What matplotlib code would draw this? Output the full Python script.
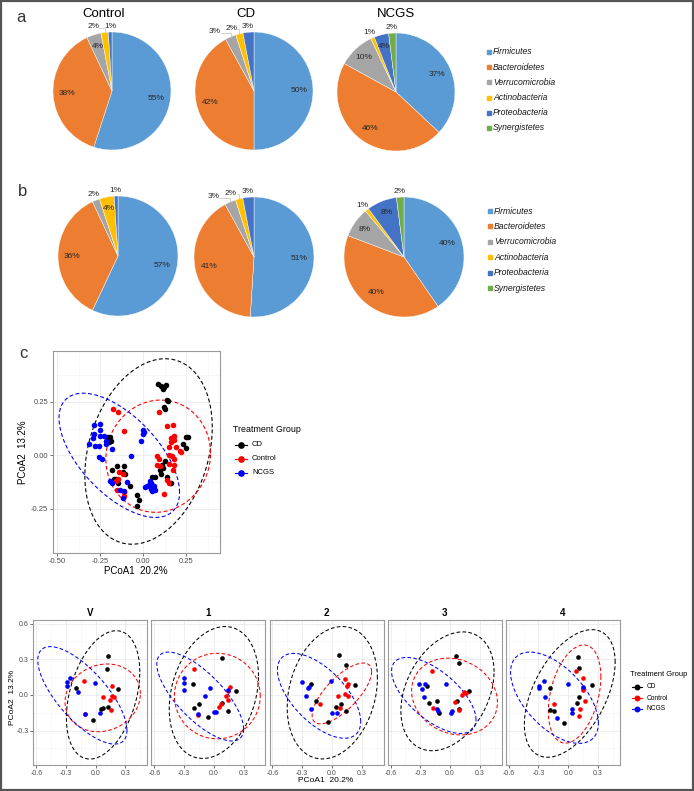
import numpy as np
import matplotlib
matplotlib.use('Agg')
import matplotlib.pyplot as plt
from matplotlib.patches import Rectangle
from matplotlib.lines import Line2D

plt.rcParams['font.family'] = ['Liberation Sans', 'DejaVu Sans']

W, H = 694, 791

# ---------------- pie data (panels a, b) ----------------
phyla = ['Firmicutes', 'Bacteroidetes', 'Verrucomicrobia', 'Actinobacteria',
         'Proteobacteria', 'Synergistetes']
phyla_colors = ['#5B9BD5', '#ED7D31', '#A5A5A5', '#FFC000', '#4472C4', '#70AD47']
pie_groups = ['Control', 'CD', 'NCGS']

pie_a_control = [55, 38, 4, 2, 1, 0]
pie_a_cd = [50, 42, 3, 2, 3, 0]
pie_a_ncgs = [37, 46, 10, 1, 4, 2]
pie_b_control = [57, 36, 2, 4, 1, 0]
pie_b_cd = [51, 41, 3, 2, 3, 0]
pie_b_ncgs = [40, 40, 8, 1, 8, 2]

# ---------------- PCoA data (panel c) ----------------
groups = ['CD', 'Control', 'NCGS']
group_colors = {'CD': 'black', 'Control': '#FF0000', 'NCGS': '#0000FF'}

c_cd = [(0.085, 0.335), (0.10, 0.325), (0.115, 0.31), (0.12, 0.32), (0.13, 0.33),
        (0.135, 0.26), (0.145, 0.255), (0.12, 0.225), (0.125, 0.215),
        (0.25, 0.085), (0.26, 0.085), (0.23, 0.055), (0.25, 0.035),
        (-0.205, 0.085), (-0.195, 0.085), (-0.19, 0.065), (-0.2, 0.06),
        (-0.155, -0.05), (-0.11, -0.05), (-0.18, -0.07), (-0.17, -0.11), (-0.15, -0.13),
        (-0.12, -0.08), (-0.105, -0.085), (-0.075, -0.145), (-0.035, -0.185),
        (-0.025, -0.21), (-0.035, -0.235), (-0.16, -0.11),
        (0.05, -0.10), (0.065, -0.10), (0.095, -0.07), (0.11, -0.045), (0.125, -0.025),
        (0.115, -0.06), (0.10, -0.085), (0.135, -0.10), (0.155, -0.13), (0.16, -0.13)]
c_control = [(-0.175, 0.215), (-0.15, 0.20), (-0.11, 0.115), (0.09, 0.20), (0.135, 0.135),
             (0.17, 0.14), (0.16, 0.08), (0.18, 0.09), (0.18, 0.07), (0.16, 0.06),
             (0.15, 0.04), (0.19, 0.04), (0.21, 0.02), (0.22, 0.015),
             (0.08, -0.005), (0.09, -0.015), (0.15, 0.0), (0.165, -0.005), (0.175, -0.015),
             (0.15, -0.04), (0.18, -0.045), (0.17, -0.07), (0.08, -0.045), (0.095, -0.05),
             (0.135, -0.115), (0.15, -0.13), (0.12, -0.18),
             (-0.14, -0.08), (-0.12, -0.085), (-0.145, -0.11), (-0.16, -0.12),
             (-0.155, -0.16), (-0.115, -0.17), (-0.115, -0.19)]
c_ncgs = [(-0.315, 0.055), (-0.295, 0.08), (-0.285, 0.10), (-0.285, 0.14), (-0.25, 0.145),
          (-0.25, 0.12), (-0.25, 0.09), (-0.28, 0.045), (-0.26, 0.045), (-0.23, 0.09),
          (-0.22, 0.065), (-0.215, 0.055), (-0.185, 0.03), (-0.255, -0.01), (-0.24, -0.015),
          (-0.005, 0.12), (0.005, 0.11), (-0.005, 0.10), (-0.015, 0.065), (-0.07, -0.005),
          (-0.195, -0.12), (-0.18, -0.13), (-0.095, -0.125), (-0.135, -0.16), (-0.11, -0.165),
          (-0.12, -0.20), (0.01, -0.15), (0.035, -0.14), (0.045, -0.13), (0.05, -0.14),
          (0.06, -0.145), (0.045, -0.155), (0.04, -0.12), (0.05, -0.165), (0.065, -0.16),
          (0.02, -0.145)]
# ellipse: centre x, centre y, half width, half height, correlation
c_ellipses = {'CD': (0.03, 0.018, 0.37, 0.433, 0.26),
              'Control': (0.086, -0.004, 0.304, 0.262, 0.05),
              'NCGS': (-0.14, 0.0, 0.35, 0.29, -0.60)}

# ---------------- PCoA by visit (panel d) ----------------
visits = ['V', '1', '2', '3', '4']
visit_cd = {
    'V': [(0.125, 0.33), (0.115, 0.22), (-0.196, 0.056), (0.225, 0.05), (0.054, -0.118),
          (0.074, -0.107), (0.12, -0.10), (-0.027, -0.213)],
    '1': [(0.087, 0.314), (-0.213, 0.09), (0.222, 0.034), (0.08, -0.065), (-0.145, -0.076),
          (-0.196, -0.107), (0.138, -0.132), (-0.054, -0.188)],
    '2': [(0.07, 0.337), (0.138, 0.253), (-0.216, 0.09), (0.232, 0.084), (-0.165, -0.05),
          (0.087, -0.073), (0.044, -0.10), (0.138, -0.135), (-0.041, -0.23)],
    '3': [(0.06, 0.329), (0.093, 0.267), (-0.236, 0.076), (0.194, 0.036), (-0.135, -0.05),
          (-0.21, -0.07), (0.067, -0.048), (-0.109, -0.149), (0.09, -0.12)],
    '4': [(0.103, 0.317), (0.113, 0.23), (-0.183, 0.056), (0.239, 0.084), (0.113, -0.022),
          (0.087, -0.065), (-0.183, -0.126), (-0.139, -0.132), (-0.038, -0.233)],
}
visit_control = {
    'V': [(-0.115, 0.118), (0.168, 0.073), (0.074, -0.014), (0.168, -0.006), (0.181, -0.02),
          (0.148, -0.045), (0.158, -0.126), (-0.112, -0.163)],
    '1': [(-0.196, 0.216), (0.165, 0.07), (0.138, 0.034), (0.12, -0.008), (0.138, -0.042),
          (0.074, -0.076), (0.054, -0.098), (-0.162, -0.168)],
    '2': [(0.128, 0.135), (0.165, 0.09), (0.148, 0.076), (0.064, -0.006), (0.135, 0.006),
          (0.165, -0.01), (-0.122, -0.079), (0.077, -0.107)],
    '3': [(-0.186, 0.202), (0.14, 0.028), (0.158, 0.019), (0.117, 0.0), (0.05, -0.056),
          (0.093, -0.126), (-0.17, -0.112)],
    '4': [(0.08, 0.202), (0.154, 0.14), (0.147, 0.056), (0.147, 0.042), (0.171, -0.05),
          (-0.139, -0.079), (0.12, -0.118), (0.11, -0.18)],
}
visit_ncgs = {
    'V': [(-0.256, 0.146), (-0.29, 0.11), (-0.29, 0.076), (-0.18, 0.028), (-0.004, 0.104),
          (-0.105, -0.163), (0.047, -0.154)],
    '1': [(-0.30, 0.14), (-0.30, 0.098), (-0.30, 0.042), (-0.034, 0.062), (-0.088, -0.006),
          (0.14, 0.04), (0.006, -0.14), (0.024, -0.146), (-0.155, -0.163)],
    '2': [(-0.30, 0.107), (-0.233, 0.07), (-0.24, 0.056), (-0.266, -0.008), (-0.007, 0.118),
          (-0.209, -0.118), (0.003, -0.149), (0.054, -0.154)],
    '3': [(-0.314, 0.093), (-0.253, 0.09), (-0.287, 0.048), (-0.26, -0.014), (-0.044, 0.09),
          (-0.135, -0.12), (-0.119, -0.135), (0.016, -0.135), (0.01, -0.149)],
    '4': [(-0.243, 0.115), (-0.29, 0.076), (-0.29, 0.056), (-0.233, -0.014), (-0.004, 0.093),
          (-0.115, -0.197), (0.037, -0.12), (0.037, -0.149), (0.15, 0.07)],
}
visit_ellipses = {
    'V': {'CD': (0.074, 0.0, 0.37, 0.54, 0.36), 'Control': (0.07, -0.025, 0.38, 0.285, 0.12),
          'NCGS': (-0.135, -0.004, 0.45, 0.41, -0.72)},
    '1': {'CD': (0.0, 0.02, 0.45, 0.555, 0.25), 'Control': (0.035, -0.01, 0.433, 0.36, 0.0),
          'NCGS': (-0.138, -0.014, 0.438, 0.374, -0.73)},
    '2': {'CD': (0.0035, 0.018, 0.455, 0.557, 0.22), 'Control': (0.10, 0.012, 0.30, 0.256, 0.72),
          'NCGS': (-0.13, -0.008, 0.42, 0.357, -0.61)},
    '3': {'CD': (-0.026, 0.03, 0.47, 0.50, 0.33), 'Control': (0.045, -0.014, 0.433, 0.323, -0.15),
          'NCGS': (-0.164, -0.005, 0.426, 0.32, -0.64)},
    '4': {'CD': (0.016, 0.012, 0.458, 0.537, 0.49), 'Control': (0.065, 0.007, 0.265, 0.413, 0.35),
          'NCGS': (-0.138, -0.024, 0.443, 0.384, -0.56)},
}


def px_rect(left, top, width, height):
    return [left / W, 1 - (top + height) / H, width / W, height / H]


def fx(x):
    return x / W


def fy(y):
    return 1 - y / H


fig = plt.figure(figsize=(W / 100, H / 100), dpi=100)


def draw_pie(cx, cy, r, vals):
    size = 2.6 * r
    ax = fig.add_axes(px_rect(cx - size / 2, cy - size / 2, size, size))
    vals = np.array(vals, float)
    keep = vals > 0
    v = vals[keep]
    cols = [c for c, k in zip(phyla_colors, keep) if k]
    ax.pie(v, colors=cols, startangle=90, counterclock=False, radius=1,
           wedgeprops=dict(linewidth=0.3, edgecolor='white'))
    ax.set_xlim(-1.3, 1.3)
    ax.set_ylim(-1.3, 1.3)
    ax.set_aspect('equal')
    ax.axis('off')

    frac = v / v.sum()
    mid = (np.cumsum(frac) - frac / 2) * 2 * np.pi
    inside, outside = [], []
    for val, th in zip(v, mid):
        if val >= 4:
            rho = 0.76 if val >= 15 else 0.8
            inside.append((val, rho * np.sin(th), rho * np.cos(th)))
        else:
            outside.append([val, th, 1.12 * np.sin(th), 1.1 * np.cos(th)])
    for val, x, y in inside:
        ax.text(x, y, f'{val:.0f}%', ha='center', va='center', fontsize=6, color='#262626')
    # spread small outside labels so they do not collide
    gap = 0.28
    prev = None
    for lab in reversed(outside):
        if prev is not None and lab[2] > prev - gap:
            lab[2] = prev - gap
        prev = lab[2]
    for val, th, x, y in outside:
        ex, ey = np.sin(th), np.cos(th)
        if abs(x - 1.12 * ex) > 0.08:
            ax.plot([ex, ex, x + 0.1], [ey, y - 0.02, y - 0.02], color='#bfbfbf', lw=0.5)
        ax.text(x, y, f'{val:.0f}%', ha='center', va='center', fontsize=6, color='#262626')


def pie_legend(x0, y0, step):
    for i, (name, col) in enumerate(zip(phyla, phyla_colors)):
        yy = y0 + i * step
        fig.add_artist(Rectangle((fx(x0), fy(yy + 2)), 4 / W, 4 / H, color=col,
                                 transform=fig.transFigure))
        fig.text(fx(x0 + 6), fy(yy), name, style='italic', fontsize=6.2,
                 va='center', ha='left', color='#1a1a1a')


# panel a
a_vals = [pie_a_control, pie_a_cd, pie_a_ncgs]
a_centres = [(112, 91), (254, 91), (396, 92)]
for (cx, cy), vals in zip(a_centres, a_vals):
    draw_pie(cx, cy, 59, vals)
for name, x in zip(pie_groups, [104, 246, 396]):
    fig.text(fx(x), fy(14), name, ha='center', va='center', fontsize=9.5)
pie_legend(487, 52, 15.2)

# panel b
b_vals = [pie_b_control, pie_b_cd, pie_b_ncgs]
b_centres = [(118, 256), (254, 257), (404, 257)]
for (cx, cy), vals in zip(b_centres, b_vals):
    draw_pie(cx, cy, 60, vals)
pie_legend(488, 211, 15.4)

fig.text(fx(21), fy(17), 'a', ha='center', va='center', fontsize=12, color='#333333')
fig.text(fx(23), fy(191), 'b', ha='center', va='center', fontsize=12, color='#333333')
fig.text(fx(23), fy(353), 'c', ha='center', va='center', fontsize=12, color='#333333')


def ellipse_xy(params, n=200):
    cx, cy, hx, hy, rho = params
    t = np.linspace(0, 2 * np.pi, n)
    x = cx + hx * np.cos(t)
    y = cy + hy * (rho * np.cos(t) + np.sqrt(1 - rho ** 2) * np.sin(t))
    return x, y


def style_panel(ax, xmaj, ymaj, xmin, ymin, lsize):
    ax.set_xticks(xmaj)
    ax.set_yticks(ymaj)
    ax.set_xticks(xmin, minor=True)
    ax.set_yticks(ymin, minor=True)
    ax.grid(True, which='major', color='#EBEBEB', lw=0.6)
    ax.grid(True, which='minor', color='#F4F4F4', lw=0.4)
    ax.set_axisbelow(True)
    ax.tick_params(which='major', length=2, width=0.5, color='#333333',
                   labelsize=lsize, labelcolor='#4D4D4D', pad=1.5)
    ax.tick_params(which='minor', length=0)
    for s in ax.spines.values():
        s.set_color('#9A9A9A')
        s.set_linewidth(0.8)


def legend_block(x, y_title, ys, fs_title, fs, k):
    fig.text(fx(x), fy(y_title), 'Treatment Group', fontsize=fs_title, va='center', ha='left')
    for g, yy in zip(groups, ys):
        fig.add_artist(Line2D([fx(x + 2 * k), fx(x + 14 * k)], [fy(yy), fy(yy)],
                              color=group_colors[g], lw=0.8, transform=fig.transFigure))
        fig.add_artist(Line2D([fx(x + 8 * k)], [fy(yy)], marker='o', ms=3.8 * k, lw=0,
                              color=group_colors[g], transform=fig.transFigure))
        fig.text(fx(x + 19 * k), fy(yy), g, fontsize=fs, va='center', ha='left')


# panel c
c_points = {'CD': c_cd, 'Control': c_control, 'NCGS': c_ncgs}
axc = fig.add_axes(px_rect(53, 351, 167, 202))
for g in groups:
    pts = np.array(c_points[g])
    axc.scatter(pts[:, 0], pts[:, 1], s=16, color=group_colors[g], lw=0, zorder=3)
    ex, ey = ellipse_xy(c_ellipses[g])
    axc.plot(ex, ey, ls=(0, (3.5, 2.2)), color=group_colors[g], lw=0.8, zorder=2)
axc.set_xlim(-0.525, 0.445)
axc.set_ylim(-0.456, 0.487)
style_panel(axc, [-0.5, -0.25, 0, 0.25], [-0.25, 0, 0.25],
            [-0.375, -0.125, 0.125, 0.375], [-0.375, -0.125, 0.125, 0.375], 5.5)
axc.xaxis.set_major_formatter(plt.FuncFormatter(lambda v, p: f'{v:.2f}'))
axc.yaxis.set_major_formatter(plt.FuncFormatter(lambda v, p: f'{v:.2f}'))
fig.text(fx(136), fy(571), 'PCoA1  20.2%', ha='center', va='center', fontsize=7)
fig.text(fx(23), fy(452), 'PCoA2  13.2%', ha='center', va='center', fontsize=7, rotation=90)
legend_block(233, 429, [445, 459, 473], 6.4, 5.5, 1.0)

# panel d: one facet per visit
visit_points = {'CD': visit_cd, 'Control': visit_control, 'NCGS': visit_ncgs}
for i, v in enumerate(visits):
    ax = fig.add_axes(px_rect(33.3 + i * 118.1, 620, 114, 145))
    for g in groups:
        pts = np.array(visit_points[g][v])
        ax.scatter(pts[:, 0], pts[:, 1], s=11, color=group_colors[g], lw=0, zorder=3)
        ex, ey = ellipse_xy(visit_ellipses[v][g])
        ax.plot(ex, ey, ls=(0, (3.5, 2.2)), color=group_colors[g], lw=0.75, zorder=2)
    ax.set_xlim(-0.63, 0.52)
    ax.set_ylim(-0.59, 0.63)
    style_panel(ax, [-0.6, -0.3, 0, 0.3], [-0.3, 0, 0.3, 0.6],
                [-0.45, -0.15, 0.15, 0.45], [-0.45, -0.15, 0.15, 0.45], 5.0)
    ax.xaxis.set_major_formatter(plt.FuncFormatter(lambda val, p: f'{val:.1f}'))
    ax.yaxis.set_major_formatter(plt.FuncFormatter(lambda val, p: f'{val:.1f}'))
    if i > 0:
        ax.tick_params(axis='y', which='both', left=False, labelleft=False)
    ax.set_title(v, fontsize=7, fontweight='bold', pad=3)
fig.text(fx(326), fy(781), 'PCoA1  20.2%', ha='center', va='center', fontsize=6)
fig.text(fx(12), fy(697), 'PCoA2  13.2%', ha='center', va='center', fontsize=6, rotation=90)
legend_block(630, 675, [687, 698, 709], 5.4, 4.8, 0.85)

# outer frame
fig.add_artist(Rectangle((0.001, 0.001), 0.998, 0.998, fill=False, ec='#555555', lw=1.6,
                         transform=fig.transFigure))

fig.savefig('out.png', dpi=100)
